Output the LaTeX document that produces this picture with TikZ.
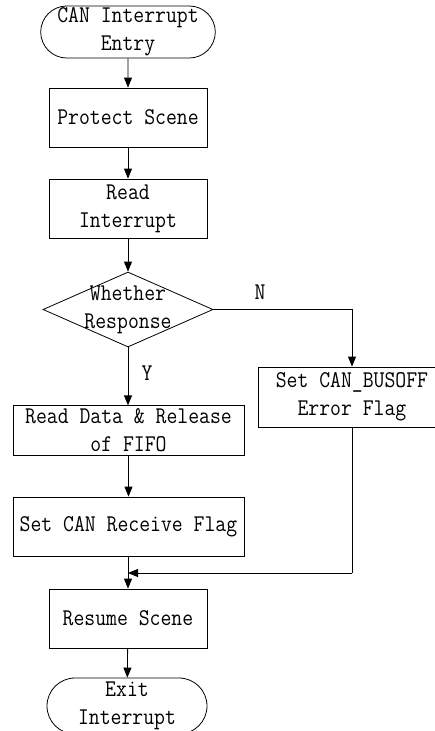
\documentclass[tikz,border=0pt]{standalone}
\usepackage{fontspec}
\setmonofont{Latin Modern Mono}[FakeStretch=0.88]
\usetikzlibrary{shapes.geometric,shapes.misc,arrows.meta}

\begin{document}
\begin{tikzpicture}[x=1pt,y=-1pt,
  every node/.style={font=\ttfamily\fontsize{24}{28}\selectfont, align=center, inner sep=0pt},
  proc/.style={draw, rectangle, line width=0.8pt, minimum width=158pt, minimum height=59pt},
  wide/.style={proc, minimum width=231pt},
  term/.style={draw, rounded rectangle, line width=0.8pt, minimum width=158pt, minimum height=52pt},
  decide/.style={draw, diamond, line width=0.8pt, minimum width=170pt, minimum height=75pt},
  flow/.style={line width=0.8pt, -{Triangle[length=10pt,width=8pt]}},
  link/.style={line width=0.8pt}
]
\useasboundingbox (0,0) rectangle (435,731);

% main column
\node[term] (start) at (128,32) {CAN Interrupt\\Entry};
\node[proc] (protect) at (128,117.5) {Protect Scene};
\node[proc] (readint) at (128,208.5) {Read\\Interrupt};
\node[decide] (dec) at (128,309.5) {};
\node at (dec) {Whether\\Response};
\node[wide, minimum height=49.5pt] (readdata) at (128.5,430.5) {Read Data \& Release\\of FIFO};
\node[wide] (recv) at (128.5,526.5) {Set CAN Receive Flag};
\node[proc] (resume) at (128,618.5) {Resume Scene};
\node[term, minimum width=160pt, minimum height=56pt] (exit) at (127,706) {Exit\\Interrupt};

% error branch
\node[proc, minimum width=188pt, minimum height=60pt] (busoff) at (352,397) {Set CAN\_BUSOFF\\Error Flag};

\coordinate (bend) at (352,309.5);
\coordinate (low) at (352,573);
\coordinate (merge) at (128,573);

% connectors
\draw[flow] (start) -- (protect);
\draw[flow] (protect) -- (readint);
\draw[flow] (readint) -- (dec);
\draw[flow] (dec.east) -- (bend) -- (busoff.north);
\draw[flow] (dec.south) -- (readdata.north -| dec.south);
\draw[flow] (readdata) -- (recv);
\draw[flow] (recv.south -| resume.north) -- (resume.north);
\draw[link] (busoff.south) -- (low);
\draw[flow] (low) -- (merge);
\draw[flow] (resume) -- (exit);

% branch labels
\node at (260,292) {N};
\node at (147,373) {Y};
\end{tikzpicture}
\end{document}
